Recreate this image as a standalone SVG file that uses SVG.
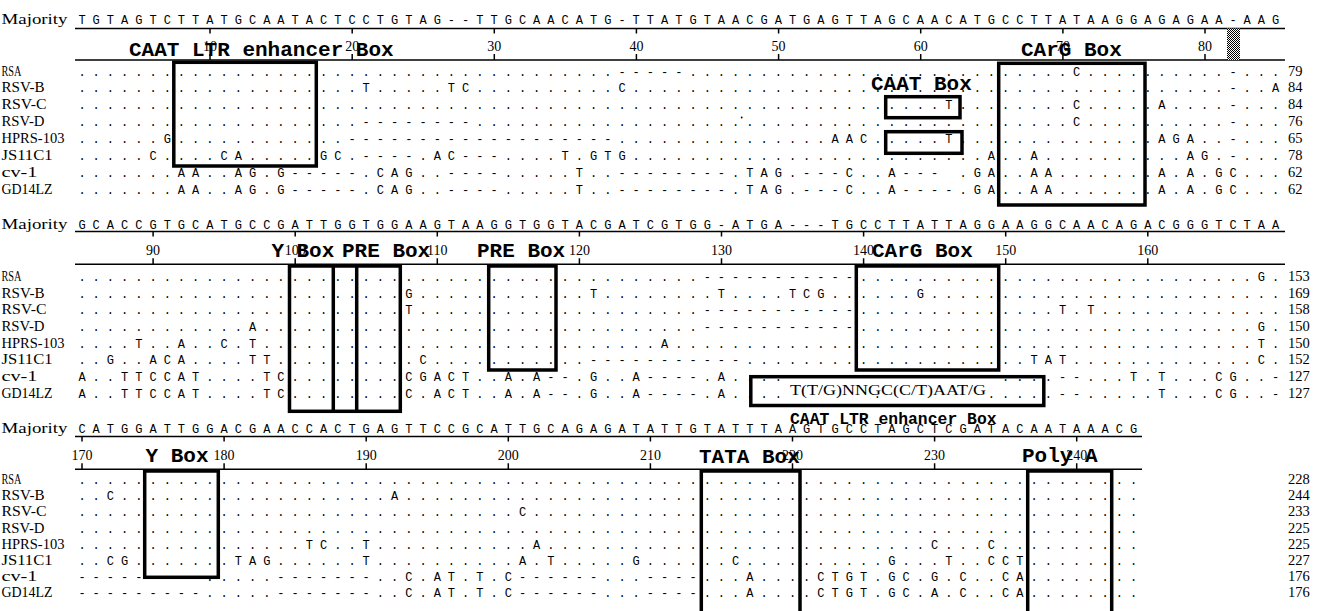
<svg xmlns="http://www.w3.org/2000/svg" width="1321" height="611" viewBox="0 0 1321 611">
<defs>
<style>
.s{font-family:"Liberation Mono",monospace;font-size:12px;letter-spacing:7.01px;fill:#000}
.lb{font-family:"Liberation Serif",serif;font-size:14px;fill:#000}
.n{font-family:"Liberation Serif",serif;font-size:14px;fill:#000;text-anchor:middle}
.rn{font-family:"Liberation Serif",serif;font-size:14.5px;fill:#000}
.bl{font-family:"Liberation Mono",monospace;font-weight:bold;font-size:21px;fill:#000}
.ln{stroke:#000;stroke-width:1.5;fill:none}
.bx{stroke:#000;stroke-width:3.5;fill:none}
</style>
<pattern id="dither" width="2" height="2" patternUnits="userSpaceOnUse"><rect width="2" height="2" fill="#fff"/><rect width="1" height="1" fill="#000"/><rect x="1" y="1" width="1" height="1" fill="#000"/></pattern>
</defs>
<rect width="1321" height="611" fill="#fff"/>

<g id="block1">
<g id="b1-header">
<text class="lb" x="1.5" y="23.5" textLength="66" lengthAdjust="spacingAndGlyphs">Majority</text>
<text class="s" y="23.5"><tspan x="78.4">TGTAGTCTTA</tspan><tspan x="220.5">TGCAATACTC</tspan><tspan x="362.6">CTGTAG--TT</tspan><tspan x="504.7">GCAACATG-T</tspan><tspan x="646.8">TATGTAACGA</tspan><tspan x="788.9">TGAGTTAGCA</tspan><tspan x="931">ACATGCCTTA</tspan><tspan x="1073.1">TAAGGAGAGA</tspan><tspan x="1215.2">A-AAG</tspan></text>
<path class="ln" d="M75 28.5H1285M75 60H1285M210 28.5v5M352.2 28.5v5M494.3 28.5v5M636.4 28.5v5M778.6 28.5v5M920.7 28.5v5M1062.9 28.5v5M1205 28.5v5M210 54v6M352.2 54v6M494.3 54v6M636.4 54v6M778.6 54v6M920.7 54v6M1062.9 54v6M1205 54v6"/>
<text class="n" x="210" y="50.5">10</text><text class="n" x="352.2" y="50.5">20</text><text class="n" x="494.3" y="50.5">30</text><text class="n" x="636.4" y="50.5">40</text><text class="n" x="778.6" y="50.5">50</text><text class="n" x="920.7" y="50.5">60</text><text class="n" x="1062.9" y="50.5">70</text><text class="n" x="1205" y="50.5">80</text>
<rect x="1227" y="28.5" width="13" height="31.5" fill="url(#dither)"/>
</g>
<g id="b1-names">
<text class="lb" x="1.5" y="75.5" textLength="20" lengthAdjust="spacingAndGlyphs">RSA</text>
<text class="lb" x="1.5" y="92.4" textLength="43" lengthAdjust="spacingAndGlyphs">RSV-B</text>
<text class="lb" x="1.5" y="109.3" textLength="45" lengthAdjust="spacingAndGlyphs">RSV-C</text>
<text class="lb" x="1.5" y="126.2" textLength="43" lengthAdjust="spacingAndGlyphs">RSV-D</text>
<text class="lb" x="1.5" y="143.1" textLength="63" lengthAdjust="spacingAndGlyphs">HPRS-103</text>
<text class="lb" x="1.5" y="160" textLength="51" lengthAdjust="spacingAndGlyphs">JS11C1</text>
<text class="lb" x="1.5" y="176.9" textLength="36" lengthAdjust="spacingAndGlyphs">cv-1</text>
<text class="lb" x="1.5" y="193.8" textLength="51" lengthAdjust="spacingAndGlyphs">GD14LZ</text>
</g>
<g id="b1-rows">
<text class="s" y="75.5"><tspan x="78.4">..........</tspan><tspan x="220.5">..........</tspan><tspan x="362.6">..........</tspan><tspan x="504.7">........--</tspan><tspan x="646.8">---.......</tspan><tspan x="788.9">..........</tspan><tspan x="931">..........</tspan><tspan x="1073.1">C.........</tspan><tspan x="1215.2">.-...</tspan></text>
<text class="s" y="92.4"><tspan x="78.4">..........</tspan><tspan x="220.5">..........</tspan><tspan x="362.6">T.....TC..</tspan><tspan x="504.7">........C.</tspan><tspan x="646.8">..........</tspan><tspan x="788.9">..........</tspan><tspan x="931">..........</tspan><tspan x="1073.1">..........</tspan><tspan x="1215.2">.-..A</tspan></text>
<text class="s" y="109.3"><tspan x="78.4">..........</tspan><tspan x="220.5">..........</tspan><tspan x="362.6">..........</tspan><tspan x="504.7">..........</tspan><tspan x="646.8">..........</tspan><tspan x="788.9">..........</tspan><tspan x="931">.T........</tspan><tspan x="1073.1">C.....A...</tspan><tspan x="1215.2">.-...</tspan></text>
<text class="s" y="126.2"><tspan x="78.4">..........</tspan><tspan x="220.5">..........</tspan><tspan x="362.6">--------..</tspan><tspan x="504.7">..........</tspan><tspan x="646.8">..........</tspan><tspan x="788.9">..........</tspan><tspan x="931">..........</tspan><tspan x="1073.1">C.........</tspan><tspan x="1215.2">.-...</tspan></text>
<text class="s" y="143.1"><tspan x="78.4">......G...</tspan><tspan x="220.5">.........-</tspan><tspan x="362.6">----------</tspan><tspan x="504.7">--------..</tspan><tspan x="646.8">..........</tspan><tspan x="788.9">...AAC....</tspan><tspan x="931">.T........</tspan><tspan x="1073.1">......AGA.</tspan><tspan x="1215.2">.-...</tspan></text>
<text class="s" y="160"><tspan x="78.4">.....C....</tspan><tspan x="220.5">CA.....GC.</tspan><tspan x="362.6">----.AC---</tspan><tspan x="504.7">....T.GTG.</tspan><tspan x="646.8">..........</tspan><tspan x="788.9">..........</tspan><tspan x="931">....A..A..</tspan><tspan x="1073.1">........AG</tspan><tspan x="1215.2">.-...</tspan></text>
<text class="s" y="176.9"><tspan x="78.4">.......AA.</tspan><tspan x="220.5">.AG.G-----</tspan><tspan x="362.6">.CAG..----</tspan><tspan x="504.7">.....T..--</tspan><tspan x="646.8">------.TAG</tspan><tspan x="788.9">.---C..A--</tspan><tspan x="931">-&#160;.GA..AA.</tspan><tspan x="1073.1">......A.A.</tspan><tspan x="1215.2">GC...</tspan></text>
<text class="s" y="193.8"><tspan x="78.4">.......AA.</tspan><tspan x="220.5">.AG.G-----</tspan><tspan x="362.6">.CAG..----</tspan><tspan x="504.7">.....T..--</tspan><tspan x="646.8">------.TAG</tspan><tspan x="788.9">.---C..A--</tspan><tspan x="931">--.GA..AA.</tspan><tspan x="1073.1">......A.A.</tspan><tspan x="1215.2">GC...</tspan></text>
<circle cx="741.7" cy="117.5" r="0.9" fill="#000"/>
</g>
<g id="b1-counts">
<text class="rn" x="1288" y="75.5">79</text><text class="rn" x="1288" y="92.4">84</text><text class="rn" x="1288" y="109.3">84</text><text class="rn" x="1288" y="126.2">76</text><text class="rn" x="1288" y="143.1">65</text><text class="rn" x="1288" y="160">78</text><text class="rn" x="1288" y="176.9">62</text><text class="rn" x="1288" y="193.8">62</text>
</g>
<g id="b1-caat-ltr"><rect class="bx" x="173.8" y="62.3" width="142.5" height="103.7"/><text class="bl" x="129" y="56">CAAT LTR enhancer Box</text></g>
<g id="b1-caat"><rect class="bx" x="885.7" y="96.7" width="74.3" height="21"/><rect class="bx" x="885.7" y="131.7" width="76.3" height="21.6"/><text class="bl" x="871" y="90">CAAT Box</text></g>
<g id="b1-carg"><rect class="bx" x="998.7" y="63.3" width="146.3" height="141.7"/><text class="bl" x="1021" y="56">CArG Box</text></g>
</g>

<g id="block2">
<g id="b2-header">
<text class="lb" x="1.5" y="229" textLength="66" lengthAdjust="spacingAndGlyphs">Majority</text>
<text class="s" y="229"><tspan x="78.4">GCACCGTGCA</tspan><tspan x="220.5">TGCCGATTGG</tspan><tspan x="362.6">TGGAAGTAAG</tspan><tspan x="504.7">GTGGTACGAT</tspan><tspan x="646.8">CGTGG-ATGA</tspan><tspan x="788.9">---TGCCTTA</tspan><tspan x="931">TTAGGAAGGC</tspan><tspan x="1073.1">AACAGACGGG</tspan><tspan x="1215.2">TCTAA</tspan></text>
<path class="ln" d="M75 231.5H1285M75 264.3H1285M153.1 231.5v5M295.2 231.5v5M437.3 231.5v5M579.4 231.5v5M721.5 231.5v5M863.6 231.5v5M1005.7 231.5v5M1147.8 231.5v5M153.1 258.3v6M295.2 258.3v6M437.3 258.3v6M579.4 258.3v6M721.5 258.3v6M863.6 258.3v6M1005.7 258.3v6M1147.8 258.3v6"/>
<text class="n" x="153.1" y="255">90</text><text class="n" x="295.2" y="255">100</text><text class="n" x="437.3" y="255">110</text><text class="n" x="579.4" y="255">120</text><text class="n" x="721.5" y="255">130</text><text class="n" x="863.6" y="255">140</text><text class="n" x="1005.7" y="255">150</text><text class="n" x="1147.8" y="255">160</text>
</g>
<g id="b2-names">
<text class="lb" x="1.5" y="281" textLength="20" lengthAdjust="spacingAndGlyphs">RSA</text>
<text class="lb" x="1.5" y="297.6" textLength="43" lengthAdjust="spacingAndGlyphs">RSV-B</text>
<text class="lb" x="1.5" y="314.3" textLength="45" lengthAdjust="spacingAndGlyphs">RSV-C</text>
<text class="lb" x="1.5" y="330.9" textLength="43" lengthAdjust="spacingAndGlyphs">RSV-D</text>
<text class="lb" x="1.5" y="347.6" textLength="63" lengthAdjust="spacingAndGlyphs">HPRS-103</text>
<text class="lb" x="1.5" y="364.2" textLength="51" lengthAdjust="spacingAndGlyphs">JS11C1</text>
<text class="lb" x="1.5" y="380.8" textLength="36" lengthAdjust="spacingAndGlyphs">cv-1</text>
<text class="lb" x="1.5" y="397.5" textLength="51" lengthAdjust="spacingAndGlyphs">GD14LZ</text>
</g>
<g id="b2-rows">
<text class="s" y="281"><tspan x="78.4">..........</tspan><tspan x="220.5">..........</tspan><tspan x="362.6">..........</tspan><tspan x="504.7">..........</tspan><tspan x="646.8">....------</tspan><tspan x="788.9">-----.....</tspan><tspan x="931">..........</tspan><tspan x="1073.1">..........</tspan><tspan x="1215.2">...G.</tspan></text>
<text class="s" y="297.6"><tspan x="78.4">..........</tspan><tspan x="220.5">..........</tspan><tspan x="362.6">...G......</tspan><tspan x="504.7">......T...</tspan><tspan x="646.8">.....T....</tspan><tspan x="788.9">TCG......G</tspan><tspan x="931">..........</tspan><tspan x="1073.1">..........</tspan><tspan x="1215.2">.....</tspan></text>
<text class="s" y="314.3"><tspan x="78.4">..........</tspan><tspan x="220.5">..........</tspan><tspan x="362.6">...T......</tspan><tspan x="504.7">..........</tspan><tspan x="646.8">....------</tspan><tspan x="788.9">-----.....</tspan><tspan x="931">.........T</tspan><tspan x="1073.1">.T........</tspan><tspan x="1215.2">.....</tspan></text>
<text class="s" y="330.9"><tspan x="78.4">..........</tspan><tspan x="220.5">..A.......</tspan><tspan x="362.6">..........</tspan><tspan x="504.7">..........</tspan><tspan x="646.8">....------</tspan><tspan x="788.9">-----.....</tspan><tspan x="931">..........</tspan><tspan x="1073.1">..........</tspan><tspan x="1215.2">...G.</tspan></text>
<text class="s" y="347.6"><tspan x="78.4">....T..A..</tspan><tspan x="220.5">C.T.......</tspan><tspan x="362.6">..........</tspan><tspan x="504.7">..........</tspan><tspan x="646.8">.A........</tspan><tspan x="788.9">..........</tspan><tspan x="931">..........</tspan><tspan x="1073.1">..........</tspan><tspan x="1215.2">...T.</tspan></text>
<text class="s" y="364.2"><tspan x="78.4">..G..ACA..</tspan><tspan x="220.5">..TT......</tspan><tspan x="362.6">....C.....</tspan><tspan x="504.7">......----</tspan><tspan x="646.8">-------...</tspan><tspan x="788.9">..........</tspan><tspan x="931">.......TAT</tspan><tspan x="1073.1">..........</tspan><tspan x="1215.2">...C.</tspan></text>
<text class="s" y="380.8"><tspan x="78.4">A..TTCCAT.</tspan><tspan x="220.5">...TC.....</tspan><tspan x="362.6">...CGACT..</tspan><tspan x="504.7">A.A--.G..A</tspan><tspan x="646.8">----.A....</tspan><tspan x="931">&#160;&#160;&#160;&#160;&#160;....-</tspan><tspan x="1073.1">-...T.T...</tspan><tspan x="1215.2">CG..-</tspan></text>
<text class="s" y="397.5"><tspan x="78.4">A..TTCCAT.</tspan><tspan x="220.5">...TC.....</tspan><tspan x="362.6">...C.ACT..</tspan><tspan x="504.7">A.A--.G..A</tspan><tspan x="646.8">----.A....</tspan><tspan x="873.8">.</tspan><tspan x="987.8">.....-</tspan><tspan x="1073.1">-.....T...</tspan><tspan x="1215.2">CG..-</tspan></text>
</g>
<g id="b2-counts">
<text class="rn" x="1288" y="281">153</text><text class="rn" x="1288" y="297.6">169</text><text class="rn" x="1288" y="314.3">158</text><text class="rn" x="1288" y="330.9">150</text><text class="rn" x="1288" y="347.6">150</text><text class="rn" x="1288" y="364.2">152</text><text class="rn" x="1288" y="380.8">127</text><text class="rn" x="1288" y="397.5">127</text>
</g>
<g id="b2-y-pre"><rect class="bx" x="289.5" y="266" width="110.8" height="145.3"/><path class="bx" d="M333.3 266V411.3M356.7 266V411.3"/><text class="bl" x="271.5" y="257">Y</text><text class="bl" x="296.5" y="257">Box</text><text class="bl" x="342" y="257">PRE Box</text></g>
<g id="b2-pre"><rect class="bx" x="488.7" y="266" width="67.3" height="104"/><text class="bl" x="477" y="257">PRE Box</text></g>
<g id="b2-carg"><rect class="bx" x="856.3" y="266" width="142.4" height="104"/><text class="bl" x="872" y="257">CArG Box</text></g>
<g id="b2-caat-ltr"><rect class="bx" x="750.8" y="376.7" width="293" height="28.8"/><text x="790" y="395" font-family="Liberation Serif, serif" font-size="15" textLength="196" lengthAdjust="spacingAndGlyphs">T(T/G)NNGC(C/T)AAT/G</text><text x="790" y="424" font-family="Liberation Mono, monospace" font-weight="bold" font-size="16.4">CAAT LTR enhancer Box</text></g>
</g>

<g id="block3">
<g id="b3-header">
<text class="lb" x="1.5" y="433" textLength="66" lengthAdjust="spacingAndGlyphs">Majority</text>
<text class="s" y="433"><tspan x="78.4">CATGGATTGG</tspan><tspan x="220.5">ACGAACCACT</tspan><tspan x="362.6">GAGTTCCGCA</tspan><tspan x="504.7">TTGCAGAGAT</tspan><tspan x="646.8">ATTGTATTTA</tspan><tspan x="788.9">AGTGCCTAGC</tspan><tspan x="931">TCGATACAAT</tspan><tspan x="1073.1">AAACG</tspan></text>
<path class="ln" d="M75 436.5H1142M75 469.3H1142M82 436.5v5M224.1 436.5v5M366.2 436.5v5M508.3 436.5v5M650.4 436.5v5M792.5 436.5v5M934.6 436.5v5M1076.7 436.5v5M82 463.3v6M224.1 463.3v6M366.2 463.3v6M508.3 463.3v6M650.4 463.3v6M792.5 463.3v6M934.6 463.3v6M1076.7 463.3v6"/>
<text class="n" x="82" y="459.5">170</text><text class="n" x="224.1" y="459.5">180</text><text class="n" x="366.2" y="459.5">190</text><text class="n" x="508.3" y="459.5">200</text><text class="n" x="650.4" y="459.5">210</text><text class="n" x="792.5" y="459.5">220</text><text class="n" x="934.6" y="459.5">230</text><text class="n" x="1076.7" y="459.5">240</text>
</g>
<g id="b3-names">
<text class="lb" x="1.5" y="484" textLength="20" lengthAdjust="spacingAndGlyphs">RSA</text>
<text class="lb" x="1.5" y="500.2" textLength="43" lengthAdjust="spacingAndGlyphs">RSV-B</text>
<text class="lb" x="1.5" y="516.4" textLength="45" lengthAdjust="spacingAndGlyphs">RSV-C</text>
<text class="lb" x="1.5" y="532.6" textLength="43" lengthAdjust="spacingAndGlyphs">RSV-D</text>
<text class="lb" x="1.5" y="548.8" textLength="63" lengthAdjust="spacingAndGlyphs">HPRS-103</text>
<text class="lb" x="1.5" y="565" textLength="51" lengthAdjust="spacingAndGlyphs">JS11C1</text>
<text class="lb" x="1.5" y="581.2" textLength="36" lengthAdjust="spacingAndGlyphs">cv-1</text>
<text class="lb" x="1.5" y="597.4" textLength="51" lengthAdjust="spacingAndGlyphs">GD14LZ</text>
</g>
<g id="b3-rows">
<text class="s" y="484"><tspan x="78.4">..........</tspan><tspan x="220.5">..........</tspan><tspan x="362.6">..........</tspan><tspan x="504.7">..........</tspan><tspan x="646.8">..........</tspan><tspan x="788.9">..........</tspan><tspan x="931">..........</tspan><tspan x="1073.1">.....</tspan></text>
<text class="s" y="500.2"><tspan x="78.4">..C.......</tspan><tspan x="220.5">..........</tspan><tspan x="362.6">..A.......</tspan><tspan x="504.7">..........</tspan><tspan x="646.8">..........</tspan><tspan x="788.9">..........</tspan><tspan x="931">..........</tspan><tspan x="1073.1">.....</tspan></text>
<text class="s" y="516.4"><tspan x="78.4">..........</tspan><tspan x="220.5">..........</tspan><tspan x="362.6">..........</tspan><tspan x="504.7">.C........</tspan><tspan x="646.8">..........</tspan><tspan x="788.9">..........</tspan><tspan x="931">..........</tspan><tspan x="1073.1">.....</tspan></text>
<text class="s" y="532.6"><tspan x="78.4">..........</tspan><tspan x="220.5">..........</tspan><tspan x="362.6">..........</tspan><tspan x="504.7">..........</tspan><tspan x="646.8">..........</tspan><tspan x="788.9">..........</tspan><tspan x="931">..........</tspan><tspan x="1073.1">.....</tspan></text>
<text class="s" y="548.8"><tspan x="78.4">..........</tspan><tspan x="220.5">......TC..</tspan><tspan x="362.6">T.........</tspan><tspan x="504.7">..A.......</tspan><tspan x="646.8">..........</tspan><tspan x="788.9">..........</tspan><tspan x="931">C...C.....</tspan><tspan x="1073.1">.....</tspan></text>
<text class="s" y="565"><tspan x="78.4">..CG......</tspan><tspan x="220.5">.TAG......</tspan><tspan x="362.6">T.........</tspan><tspan x="504.7">.A.T.....G</tspan><tspan x="646.8">......C...</tspan><tspan x="788.9">.......G..</tspan><tspan x="931">.T..CCT...</tspan><tspan x="1073.1">.....</tspan></text>
<text class="s" y="581.2"><tspan x="78.4">---------.</tspan><tspan x="220.5">....------</tspan><tspan x="362.6">-..C.AT.T.</tspan><tspan x="504.7">C------...</tspan><tspan x="646.8">----...A..</tspan><tspan x="788.9">..CTGT.GC.</tspan><tspan x="931">G.C..CA...</tspan><tspan x="1073.1">.....</tspan></text>
<text class="s" y="597.4"><tspan x="78.4">---------.</tspan><tspan x="220.5">....------</tspan><tspan x="362.6">-..C.AT.T.</tspan><tspan x="504.7">C------...</tspan><tspan x="646.8">----...A..</tspan><tspan x="788.9">..CTGT.GC.</tspan><tspan x="931">A.C..CA...</tspan><tspan x="1073.1">.....</tspan></text>
</g>
<g id="b3-counts">
<text class="rn" x="1288" y="484">228</text><text class="rn" x="1288" y="500.2">244</text><text class="rn" x="1288" y="516.4">233</text><text class="rn" x="1288" y="532.6">225</text><text class="rn" x="1288" y="548.8">225</text><text class="rn" x="1288" y="565">227</text><text class="rn" x="1288" y="581.2">176</text><text class="rn" x="1288" y="597.4">176</text>
</g>
<g id="b3-ybox"><rect class="bx" x="144.7" y="471" width="73.6" height="106.3"/><text class="bl" x="145.5" y="461.7">Y Box</text></g>
<g id="b3-tata"><rect class="bx" x="701.3" y="471" width="98.7" height="200"/><text class="bl" x="699" y="463">TATA Box</text></g>
<g id="b3-polya"><rect class="bx" x="1027.7" y="471" width="84" height="200"/><text class="bl" x="1022" y="461.7">Poly A</text></g>
</g>
<g id="connectors"/>
</svg>
